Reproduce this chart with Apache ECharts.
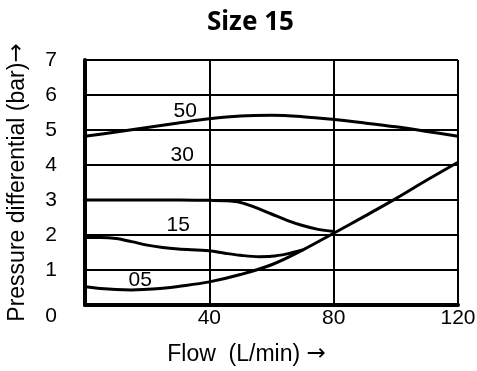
<!DOCTYPE html>
<html>
<head>
<meta charset="utf-8">
<script src="https://cdn.jsdelivr.net/npm/echarts@6/dist/echarts.min.js"></script>
<style>html,body{margin:0;padding:0;background:#fff}#c{width:477px;height:371px}</style>
</head>
<body>
<div id="c"></div>
<script>
// Data
var flow50 = [0, 10, 20, 30, 40, 50, 60, 70, 80, 90, 100, 110, 120];
var dp50   = [4.82, 4.94, 5.07, 5.2, 5.32, 5.4, 5.42, 5.38, 5.3, 5.2, 5.09, 4.96, 4.82];

var flow30 = [0, 10, 20, 30, 40, 45, 50, 55, 60, 65, 70, 75, 80];
var dp30   = [3.0, 3.0, 3.0, 3.0, 2.99, 2.98, 2.93, 2.78, 2.6, 2.42, 2.27, 2.16, 2.1];

var flow15 = [0, 5, 10, 15, 20, 25, 30, 40, 45, 50, 56, 60, 65, 70];
var dp15   = [1.93, 1.93, 1.9, 1.81, 1.71, 1.64, 1.6, 1.55, 1.48, 1.42, 1.38, 1.39, 1.46, 1.57];

var flow05 = [0, 5, 10, 15, 20, 25, 30, 40, 50, 60, 70, 80, 90, 100, 110, 120];
var dp05   = [0.52, 0.47, 0.44, 0.43, 0.45, 0.48, 0.53, 0.66, 0.87, 1.15, 1.57, 2.05, 2.54, 3.04, 3.57, 4.08];

var seriesNames = ['50', '30', '15', '05'];
var xTicks = [0, 40, 80, 120];
var yTicks = [0, 1, 2, 3, 4, 5, 6, 7];

var FONT = '"Liberation Sans", "DejaVu Sans", sans-serif';

function build(xs, ys, labelIdx, labelText, offset) {
  return xs.map(function (x, i) {
    var item = { value: [x, ys[i]] };
    if (i === labelIdx) {
      item.label = {
        show: true, position: 'inside', offset: offset,
        formatter: labelText, color: '#000', fontSize: 21, fontFamily: FONT
      };
    }
    return item;
  });
}

var lineStyle = { color: '#000', width: 3 };
function mkSeries(name, data) {
  return {
    name: name, type: 'line', data: data, smooth: 0.35,
    symbol: 'circle', symbolSize: 0, showSymbol: true, showAllSymbol: true,
    lineStyle: lineStyle, itemStyle: { color: '#000' },
    label: { show: false }, emphasis: { disabled: true }, silent: true, z: 5
  };
}

var arrowRich = { a: { fontFamily: 'DejaVu Sans', fontSize: 23, color: '#000' } };

var chart = echarts.init(document.getElementById('c'), null, { renderer: 'canvas' });
chart.setOption({
  animation: false,
  backgroundColor: '#fff',
  title: {
    text: 'Size 15', left: 202, top: 5,
    textStyle: { fontFamily: 'Noto Sans', fontWeight: 'bold', fontSize: 26, color: '#000' }
  },
  grid: { left: 85, right: 19, top: 60, bottom: 66, containLabel: false, outerBoundsMode: 'none' },
  xAxis: {
    type: 'value', min: xTicks[0], max: xTicks[xTicks.length - 1], interval: 40,
    name: 'Flow  (L/min) {a|\u2192}', nameLocation: 'middle', nameGap: 38,
    nameTextStyle: { fontFamily: FONT, fontSize: 23, color: '#000', padding: [0, 50, 0, 0], rich: arrowRich },
    axisLine: { show: true, onZero: false, lineStyle: { color: '#000', width: 4 } },
    axisTick: { show: false },
    axisLabel: {
      showMinLabel: false, margin: 3, color: '#000', fontSize: 21, fontFamily: FONT,
      formatter: function (v) { return v === 0 ? '' : String(v); }
    },
    splitLine: { show: true, lineStyle: { color: '#000', width: 2 } }
  },
  yAxis: {
    type: 'value', min: yTicks[0], max: yTicks[yTicks.length - 1], interval: 1,
    name: 'Pressure differential (bar){a|\u2192}', nameLocation: 'middle', nameGap: 56, nameRotate: 90,
    nameTextStyle: { fontFamily: FONT, fontSize: 23, color: '#000', rich: arrowRich },
    axisLine: { show: true, onZero: false, lineStyle: { color: '#000', width: 4 } },
    axisTick: { show: false },
    axisLabel: {
      margin: 28, color: '#000', fontSize: 21, fontFamily: FONT,
      formatter: function (v) { return v === 0 ? '{z|0}' : String(v); },
      rich: { z: { fontSize: 21, fontFamily: FONT, color: '#000', padding: [22, 0, 0, 0] } }
    },
    splitLine: { show: true, lineStyle: { color: '#000', width: 2 } }
  },
  series: [
    mkSeries(seriesNames[0], build(flow50, dp50, 3, seriesNames[0], [7, -12])),
    mkSeries(seriesNames[1], build(flow30, dp30, 3, seriesNames[1], [4, -45])),
    mkSeries(seriesNames[2], build(flow15, dp15, 6, seriesNames[2], [0, -24])),
    mkSeries(seriesNames[3], build(flow05, dp05, 4, seriesNames[3], [-7, -9]))
  ]
});
</script>
</body>
</html>
